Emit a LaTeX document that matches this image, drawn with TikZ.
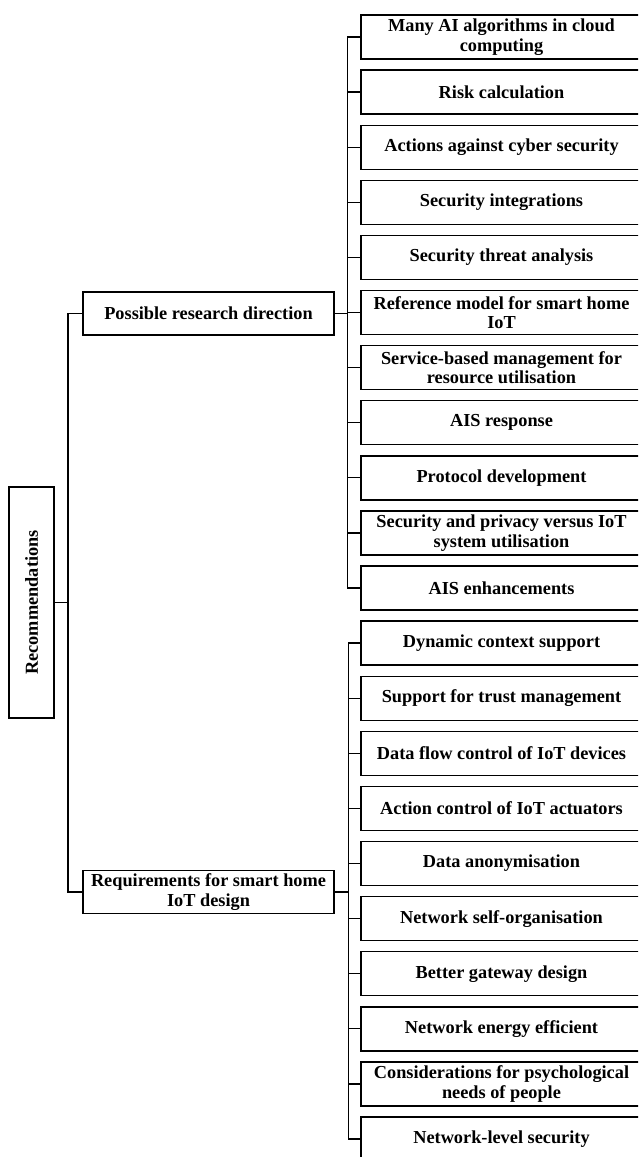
\documentclass[tikz,border=0pt]{standalone}
\usepackage{fontspec}
\setmainfont{Liberation Serif}
\begin{document}
\begin{tikzpicture}[x=1pt,y=-1pt,
  txt/.style={font=\bfseries\fontsize{18.3}{19.5}\selectfont, text=black},
  leafbox/.style={txt, draw, line width=1.4pt, minimum width=281pt, minimum height=44pt,
    inner sep=0pt, align=center},
  midbox/.style={txt, draw, line width=1.4pt, minimum width=251pt, minimum height=43pt,
    inner sep=0pt, align=center},
  rootbox/.style={txt, draw, line width=1.4pt, minimum width=45pt, minimum height=231pt,
    inner sep=0pt},
  link/.style={line width=1.3pt}]
\useasboundingbox (0,0) rectangle (638,1157);
\clip (0,0) rectangle (638,1157);

% root and the two branches
\node[rootbox] (rec) at (31.5,602.5) {\rotatebox{90}{Recommendations}};
\node[midbox] (prd) at (208.5,313.5) {Possible research direction};
\node[midbox] (req) at (208.5,892) {Requirements for smart home\\IoT design};

% leaves of the first branch
\foreach \i/\t in {
  0/{Many AI algorithms in cloud\\computing},
  1/{Risk calculation},
  2/{Actions against cyber security},
  3/{Security integrations},
  4/{Security threat analysis},
  5/{Reference model for smart home\\IoT},
  6/{Service-based management for\\resource utilisation},
  7/{AIS response},
  8/{Protocol development},
  9/{Security and privacy versus IoT\\system utilisation},
  10/{AIS enhancements}}
  \node[leafbox] (a\i) at (501.5,37+55.1*\i) {\t};

% leaves of the second branch
\foreach \i/\t in {
  0/{Dynamic context support},
  1/{Support for trust management},
  2/{Data flow control of IoT devices},
  3/{Action control of IoT actuators},
  4/{Data anonymisation},
  5/{Network self-organisation},
  6/{Better gateway design},
  7/{Network energy efficient},
  8/{Considerations for psychological\\needs of people},
  9/{Network-level security}}
  \node[leafbox] (b\i) at (501.5,643.1+55.1*\i) {\t};

% root to branches
\coordinate (lbus) at (68,602.5);
\draw[link] (rec.east) -- (lbus);
\draw[link] (prd.west) -| (lbus);
\draw[link] (req.west) -| (lbus);

% branches to leaves
\coordinate (abus) at (347.5,313.5);
\coordinate (bbus) at (348.5,892);
\draw[link] (prd.east) -- (abus);
\draw[link] (req.east) -- (bbus);
\foreach \i in {0,...,10} \draw[link] (abus) |- (a\i.west);
\foreach \i in {0,...,9} \draw[link] (bbus) |- (b\i.west);
\end{tikzpicture}
\end{document}
